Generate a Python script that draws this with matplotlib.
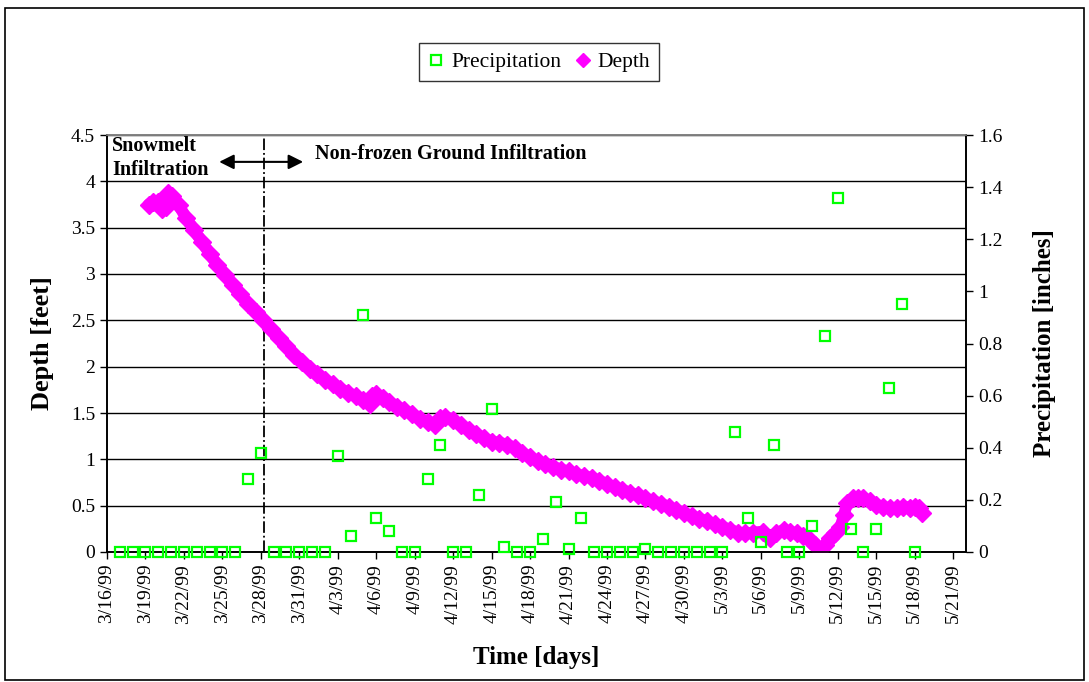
import matplotlib
matplotlib.use('Agg')
import matplotlib.pyplot as plt
import matplotlib.dates as mdates
from matplotlib.lines import Line2D
from matplotlib.patches import Rectangle
import pandas as pd

plt.rcParams['font.family'] = ['Liberation Serif', 'DejaVu Serif']

# Datos: precipitacion diaria (pulgadas), 3/17/99 - 5/18/99
precip_dates = pd.date_range('1999-03-17', '1999-05-18', freq='D')
precip_in = [
    0, 0, 0, 0, 0, 0, 0, 0, 0, 0, 0.28, 0.38, 0, 0, 0,              # marzo 17-31
    0, 0, 0.37, 0.06, 0.91, 0.13, 0.08, 0, 0, 0.28, 0.41, 0, 0,     # abril 1-13
    0.22, 0.55, 0.02, 0, 0, 0.05, 0.19, 0.01, 0.13, 0, 0, 0, 0,     # abril 14-26
    0.01, 0, 0, 0,                                                  # abril 27-30
    0, 0, 0, 0.46, 0.13, 0.04, 0.41, 0, 0, 0.10, 0.83, 1.36,        # mayo 1-12
    0.09, 0, 0.09, 0.63, 0.95, 0,                                   # mayo 13-18
]

# Profundidad (pies); tiempo en dias desde 3/16/99
depth_days = [
    3.25, 3.6, 4.0, 4.3, 4.6, 4.75, 5.1, 5.6, 6.2, 6.8, 7.4, 8.0, 8.6, 9.2,
    9.8, 10.4, 11.0, 11.6, 12.2, 12.8, 13.4, 14.0, 14.6, 15.2, 15.8, 16.4,
    17.0, 17.6, 18.2, 18.8, 19.4, 20.0, 20.5, 20.7, 21.0, 21.5, 22.0, 22.6,
    23.2, 23.8, 24.4, 25.0, 25.6, 26.0, 26.4, 27.0, 27.6, 28.2, 28.8, 29.4,
    30.0, 30.6, 31.2, 31.8, 32.4, 33.0, 33.6, 34.2, 34.8, 35.4, 36.0, 36.6,
    37.2, 37.8, 38.4, 39.0, 39.6, 40.2, 40.8, 41.4, 42.0, 42.6, 43.2, 43.8,
    44.4, 45.0, 45.6, 46.2, 46.8, 47.4, 48.0, 48.6, 49.2, 49.8, 50.4, 51.2,
    51.7, 52.2, 52.8, 53.3, 53.8, 54.3, 54.8, 55.2, 55.6, 56.0, 56.4, 56.8,
    57.2, 57.5, 57.7, 58.2, 58.6, 59.0, 59.5, 60.0, 60.5, 61.1, 61.6, 62.1,
    62.6, 63.0, 63.3, 63.6,
]
depth_ft = [
    3.75, 3.78, 3.78, 3.70, 3.72, 3.87, 3.84, 3.74, 3.60, 3.47, 3.35, 3.22,
    3.10, 2.99, 2.88, 2.78, 2.68, 2.59, 2.50, 2.41, 2.31, 2.22, 2.13, 2.05,
    1.98, 1.92, 1.86, 1.81, 1.76, 1.72, 1.68, 1.64, 1.60, 1.68, 1.70, 1.66,
    1.62, 1.57, 1.53, 1.49, 1.44, 1.40, 1.37, 1.45, 1.46, 1.42, 1.37, 1.32,
    1.27, 1.23, 1.19, 1.18, 1.16, 1.12, 1.07, 1.02, 0.98, 0.95, 0.92, 0.89,
    0.87, 0.84, 0.82, 0.80, 0.77, 0.73, 0.70, 0.67, 0.64, 0.61, 0.58, 0.55,
    0.52, 0.49, 0.45, 0.42, 0.39, 0.36, 0.33, 0.30, 0.27, 0.24, 0.21, 0.20,
    0.21, 0.22, 0.15, 0.20, 0.24, 0.22, 0.20, 0.17, 0.13, 0.08, 0.02, 0.08,
    0.15, 0.20, 0.27, 0.40, 0.53, 0.58, 0.58, 0.58, 0.55, 0.51, 0.49, 0.47,
    0.48, 0.49, 0.48, 0.49, 0.47, 0.42,
]

start = pd.Timestamp('1999-03-16')
depth_time = start + pd.to_timedelta(depth_days, unit='D')
transicion = pd.Timestamp('1999-03-28 05:00')

fig = plt.figure(figsize=(10.89, 6.82), dpi=100)
ax = fig.add_axes([107 / 1089, 1 - 552 / 682, 859 / 1089, 417 / 682])
ax2 = ax.twinx()

# Profundidad (banda magenta)
ax.plot(depth_time, depth_ft, color='#FF00FF', lw=8.5, marker='D', ms=9,
        solid_joinstyle='round', solid_capstyle='round', zorder=3)

# Precipitacion (cuadros verdes)
ax2.plot(precip_dates, precip_in, ls='none', marker='s', ms=7.5, mfc='none',
         mec='#00FF00', mew=1.6, clip_on=False, zorder=4)

# Ejes
ax.set_xlim(start, pd.Timestamp('1999-05-22'))
ax.set_ylim(0, 4.5)
ax2.set_ylim(0, 1.6)
ax.set_yticks([i * 0.5 for i in range(10)])
ax.set_yticklabels(['0', '0.5', '1', '1.5', '2', '2.5', '3', '3.5', '4', '4.5'])
ax2.set_yticks([i * 0.2 for i in range(9)])
ax2.set_yticklabels(['0', '0.2', '0.4', '0.6', '0.8', '1', '1.2', '1.4', '1.6'])

ax.set_xticks(pd.date_range('1999-03-16', '1999-05-21', freq='3D'))
ax.xaxis.set_major_formatter(plt.FuncFormatter(
    lambda v, p: (lambda d: f"{d.month}/{d.day}/{d:%y}")(mdates.num2date(v))))
for lbl in ax.get_xticklabels():
    lbl.set_rotation(90)

ax.tick_params(axis='both', labelsize=14, direction='out', length=5, width=1)
ax2.tick_params(axis='y', labelsize=14, direction='out', length=5, width=1)

ax.grid(axis='y', color='black', lw=1)
ax.set_axisbelow(True)
for a in (ax, ax2):
    for s in a.spines.values():
        s.set_linewidth(1.2)
    a.spines['top'].set_color('#808080')

ax.set_xlabel('Time [days]', fontsize=18, fontweight='bold', labelpad=16)
ax.set_ylabel('Depth [feet]', fontsize=19, fontweight='bold', labelpad=12)
ax2.set_ylabel('Precipitation [inches]', fontsize=18, fontweight='bold', labelpad=22)

# Linea de transicion y anotaciones
ax.axvline(transicion, color='black', lw=1.3, ls='-.', zorder=2)
ax.text(start + pd.Timedelta(days=0.4), 4.49, 'Snowmelt\nInfiltration',
        fontsize=14.5, fontweight='bold', va='top', ha='left', linespacing=1.25)
ax.text(start + pd.Timedelta(days=16.2), 4.24, 'Non-frozen Ground Infiltration',
        fontsize=14.5, fontweight='bold', va='baseline', ha='left')
ax.annotate('', xy=(start + pd.Timedelta(days=8.75), 4.21),
            xytext=(start + pd.Timedelta(days=15.3), 4.21),
            arrowprops=dict(arrowstyle='<|-|>', color='black', lw=1.5,
                            mutation_scale=22, shrinkA=0, shrinkB=0))

# Leyenda
handles = [
    Line2D([], [], ls='none', marker='s', ms=7.5, mfc='none', mec='#00FF00', mew=1.6),
    Line2D([], [], ls='none', marker='D', ms=7, color='#FF00FF'),
]
fig.legend(handles, ['Precipitation', 'Depth'], loc='center',
           bbox_to_anchor=(539 / 1089, 1 - 62 / 682), ncol=2, fontsize=15.5,
           frameon=True, fancybox=False, edgecolor='black', handlelength=0.8,
           handletextpad=0.3, columnspacing=0.6, borderpad=0.4)

# Marco exterior
fig.patches.append(Rectangle((0.005, 0.003), 0.99, 0.985, transform=fig.transFigure,
                             fill=False, edgecolor='black', lw=1.2))

fig.savefig('out.png', dpi=100)
